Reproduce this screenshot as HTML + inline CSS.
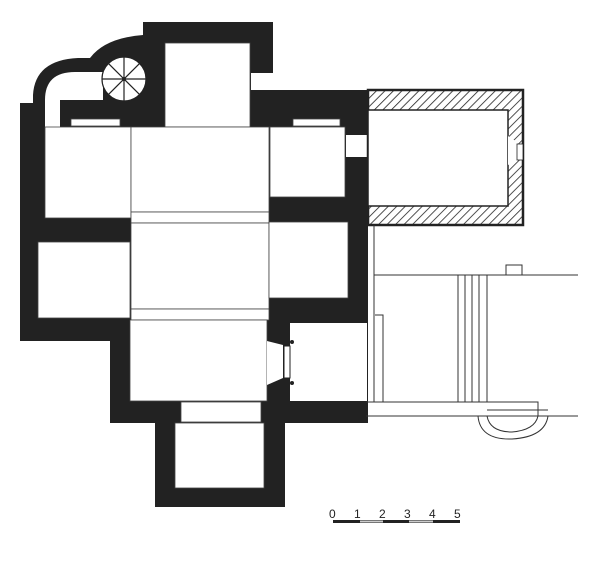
<!DOCTYPE html>
<html><head><meta charset="utf-8"><style>
html,body{margin:0;padding:0;background:#fff;}
svg{display:block;}
text{font-family:"Liberation Sans",sans-serif;font-size:12px;fill:#222;}
</style></head><body>
<svg width="600" height="573" viewBox="0 0 600 573" xmlns="http://www.w3.org/2000/svg">
<defs>
<pattern id="h" width="6" height="6" patternUnits="userSpaceOnUse" patternTransform="rotate(45)">
<rect width="6" height="6" fill="#fff"/><line x1="0" y1="0" x2="0" y2="6" stroke="#222" stroke-width="1.6"/>
</pattern>
</defs>
<!-- main black mass -->
<path d="M143,22 H273 V90 H368 V423 H285 V507 H155 V423 H110 V341 H20 V103 H33 V95 Q35,60 78,58 H90 Q105,38 143,35 Z" fill="#222"/>
<g fill="#fff" stroke="#444" stroke-width="0.8">
<rect x="165" y="43" width="85" height="84"/>
<rect x="251" y="73" width="22" height="17" stroke="none"/>
<path d="M45,127 V100 Q45,72 75,72 H103 V100 H60 V127 Z" stroke="none"/>
<rect x="71" y="119" width="49" height="7"/>
<rect x="293" y="119" width="47" height="7"/>
<rect x="45" y="127" width="86" height="91"/>
<rect x="131" y="127" width="138" height="85"/>
<rect x="131" y="212" width="138" height="11"/>
<rect x="131" y="223" width="138" height="86"/>
<rect x="131" y="309" width="138" height="11"/>
<rect x="130" y="320" width="137" height="81"/>
<rect x="270" y="127" width="75" height="70"/>
<rect x="346" y="135" width="22" height="22" stroke="none"/>
<rect x="38" y="242" width="92" height="76"/>
<rect x="269" y="222" width="79" height="76"/>
<rect x="290" y="323" width="77" height="78" stroke="none"/>
<path d="M267,341 L283,345 V378 L267,385 Z" stroke="none"/>
<rect x="181" y="402" width="80" height="20"/>
<rect x="175" y="423" width="89" height="65"/>
</g>
<rect x="284" y="346" width="6" height="32" fill="#fff" stroke="#222" stroke-width="1"/>
<circle cx="292" cy="342" r="2" fill="#222"/><circle cx="292" cy="383" r="2" fill="#222"/>
<!-- stair -->
<g stroke="#222" stroke-width="1.2" fill="#fff">
<circle cx="124" cy="79" r="22"/>
<line x1="102" y1="79" x2="146" y2="79"/><line x1="124" y1="57" x2="124" y2="101"/>
<line x1="108.4" y1="63.4" x2="139.6" y2="94.6"/><line x1="139.6" y1="63.4" x2="108.4" y2="94.6"/>
</g>
<circle cx="124" cy="79" r="2" fill="#222"/>
<!-- annex -->
<rect x="368" y="90" width="155" height="135" fill="url(#h)" stroke="#222" stroke-width="2.5"/>
<rect x="368" y="110" width="140" height="96" fill="#fff" stroke="#222" stroke-width="1.5"/>
<path d="M508,136 L517,142 V160 L508,165 Z" fill="#fff"/>
<rect x="517" y="144" width="6" height="16" fill="#fff" stroke="#222" stroke-width="0.8"/>
<!-- outer lines -->
<g stroke="#333" stroke-width="1" fill="none">
<line x1="374" y1="225" x2="374" y2="402"/>
<line x1="374" y1="275" x2="578" y2="275"/>
<rect x="506" y="265" width="16" height="10"/>
<line x1="458" y1="275" x2="458" y2="402"/><line x1="465" y1="275" x2="465" y2="402"/>
<line x1="472" y1="275" x2="472" y2="402"/><line x1="479" y1="275" x2="479" y2="402"/>
<line x1="487" y1="275" x2="487" y2="402"/>
<path d="M375,315 H383 V402"/>
<line x1="366" y1="402" x2="487" y2="402"/>
<line x1="366" y1="416" x2="578" y2="416"/>
<path d="M487,402 H538 V410 H548"/>
<path d="M487,410 H538 V416"/>
<path d="M478,416 Q480,440 512,439 Q545,437 548,416"/>
<path d="M487,416 Q490,432 512,432 Q535,430 538,416"/>
</g>
<!-- scale -->
<g>
<text x="329" y="518">0</text><text x="354" y="518">1</text><text x="379" y="518">2</text>
<text x="404" y="518">3</text><text x="429" y="518">4</text><text x="454" y="518">5</text>
<rect x="333" y="520" width="127" height="3" fill="#222"/>
<rect x="360" y="520.5" width="23" height="2" fill="#ccc"/>
<rect x="409" y="520.5" width="24" height="2" fill="#ccc"/>
</g>
</svg>
</body></html>
